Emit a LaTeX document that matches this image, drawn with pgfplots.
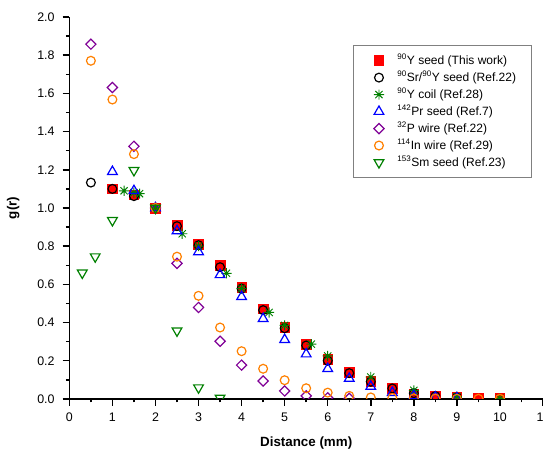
\documentclass[border=0pt]{standalone}
\usepackage{fontspec}
\setmainfont{Liberation Sans}
\usepackage{pgfplots}
\pgfplotsset{compat=1.18}

\definecolor{cred}{RGB}{255,0,0}
\definecolor{cgreen}{RGB}{0,128,0}
\definecolor{cblue}{RGB}{0,0,255}
\definecolor{cpurple}{RGB}{128,0,150}
\definecolor{corange}{RGB}{255,128,0}

% 8-armed star as in the original plot
\pgfdeclareplotmark{star8}{%
  \pgfpathmoveto{\pgfqpoint{0pt}{\pgfplotmarksize}}\pgfpathlineto{\pgfqpoint{0pt}{-\pgfplotmarksize}}%
  \pgfpathmoveto{\pgfqpoint{\pgfplotmarksize}{0pt}}\pgfpathlineto{\pgfqpoint{-\pgfplotmarksize}{0pt}}%
  \pgfpathmoveto{\pgfqpointpolar{45}{\pgfplotmarksize}}\pgfpathlineto{\pgfqpointpolar{225}{\pgfplotmarksize}}%
  \pgfpathmoveto{\pgfqpointpolar{135}{\pgfplotmarksize}}\pgfpathlineto{\pgfqpointpolar{315}{\pgfplotmarksize}}%
  \pgfusepathqstroke}

\begin{document}
\begin{tikzpicture}
\begin{axis}[
    scale only axis,
    width=354.4pt, height=285.75pt,
    xmin=0, xmax=11, ymin=0, ymax=2,
    axis x line*=bottom, axis y line*=left,
    axis line style={line width=1.1pt},
    xtick={0,1,...,11}, minor x tick num=1,
    ytick={0,0.2,...,2.0}, minor y tick num=1,
    tick align=outside,
    major tick length=5pt, minor tick length=2.6pt,
    every tick/.style={line width=1.1pt, black},
    /pgf/number format/assume math mode=true,
    yticklabel style={/pgf/number format/.cd, fixed, fixed zerofill, precision=1, /tikz/.cd, xshift=-2.5pt},
    xticklabel style={yshift=-2pt},
    ticklabel style={font=\fontsize{9.3}{11}\selectfont},
    xlabel={\textbf{Distance (mm)}},
    ylabel={\textbf{g(r)}},
    label style={font=\fontsize{12}{14}\selectfont},
    every axis x label/.style={at={(axis description cs:0.5,0)}, anchor=center, yshift=-33pt},
    every axis y label/.style={at={(axis description cs:-0.1185,0.5)}, anchor=center, rotate=90},
    clip marker paths=true,
    legend style={at={(0.975,0.9265)}, anchor=north east, draw=gray, line width=0.5pt,
        font=\fontsize{9}{10}\selectfont, row sep=0pt, inner xsep=9pt, inner ysep=5pt,
        nodes={inner ysep=1.6pt}},
    legend cell align=left,
    legend image code/.code={\path (-9.5pt,0pt) (11.3pt,0pt);
        \draw[#1] plot coordinates {(0pt,0pt)};},
]
% 90Y seed (This work)
\addplot[only marks, mark=square*, mark size=3.6pt, color=cred] coordinates {
 (1.0,1.10) (1.5,1.07) (2.0,1.00) (2.5,0.91) (3.0,0.81) (3.5,0.70) (4.0,0.585)
 (4.5,0.472) (5.0,0.374) (5.5,0.287) (6.0,0.208) (6.5,0.138) (7.0,0.094)
 (7.5,0.056) (8.0,0.028) (8.5,0.016) (9.0,0.010) (9.5,0.006) (10.0,0.004)};
% 90Sr/90Y seed
\addplot[only marks, mark=o, mark size=3.3pt, color=black, line width=0.9pt] coordinates {
 (0.5,1.133) (1.0,1.10) (1.5,1.062) (2.0,1.00) (2.5,0.905) (3.0,0.805) (3.5,0.69)
 (4.0,0.578) (4.5,0.465) (5.0,0.37) (5.5,0.28) (6.0,0.20) (6.5,0.135) (7.0,0.09)
 (7.5,0.055) (8.0,0.03) (8.5,0.015) (9.0,0.008)};
% 90Y coil
\addplot[only marks, mark=star8, mark size=3.8pt, color=cgreen, line width=0.7pt] coordinates {
 (1.27,1.09) (1.5,1.08) (1.63,1.075) (2.0,1.00) (2.62,0.865) (3.0,0.80) (3.65,0.658)
 (4.0,0.578) (4.64,0.453) (5.0,0.385) (5.62,0.287) (6.0,0.225) (7.0,0.115)
 (8.0,0.045) (9.0,0.012) (10.0,0.003)};
% 142Pr seed
\addplot[only marks, mark=triangle, mark size=4.2pt, color=cblue, line width=0.9pt] coordinates {
 (1.0,1.19) (1.5,1.09) (2.0,1.00) (2.5,0.88) (3.0,0.77) (3.5,0.65) (4.0,0.535)
 (4.5,0.42) (5.0,0.31) (5.5,0.235) (6.0,0.158) (6.5,0.107) (7.0,0.065)
 (7.5,0.033) (8.0,0.016) (8.5,0.009) (9.0,0.005)};
% 32P wire
\addplot[only marks, mark=square, mark options={rotate=45}, mark size=2.7pt, color=cpurple, line width=0.9pt] coordinates {
 (0.5,1.858) (1.0,1.631) (1.5,1.323) (2.0,1.00) (2.5,0.71) (3.0,0.479) (3.5,0.302)
 (4.0,0.177) (4.5,0.094) (5.0,0.042) (5.5,0.016) (6.0,0.006) (6.5,0.003)};
% 114In wire
\addplot[only marks, mark=o, mark size=3.3pt, color=corange, line width=0.9pt] coordinates {
 (0.5,1.771) (1.0,1.568) (1.5,1.282) (2.0,1.00) (2.5,0.745) (3.0,0.54) (3.5,0.374)
 (4.0,0.25) (4.5,0.158) (5.0,0.098) (5.5,0.056) (6.0,0.033) (6.5,0.016) (7.0,0.008)
 (7.5,0.005) (8.0,0.003) (8.5,0.002) (9.0,0.001) (9.5,0.001) (10.0,0.001)};
% 153Sm seed
\addplot[only marks, mark=triangle, mark options={rotate=180}, mark size=4.2pt, color=cgreen, line width=0.9pt] coordinates {
 (0.3,0.66) (0.6,0.745) (1.0,0.935) (1.5,1.197) (2.0,1.00) (2.5,0.357) (3.0,0.059) (3.5,0.005)};
\legend{\textsuperscript{90}Y seed (This work), \textsuperscript{90}Sr/\textsuperscript{90}Y seed (Ref.22),
  \textsuperscript{90}Y coil (Ref.28), \textsuperscript{142}Pr seed (Ref.7), \textsuperscript{32}P wire (Ref.22),
  \textsuperscript{114}In wire (Ref.29), \textsuperscript{153}Sm seed (Ref.23)}
\coordinate (ll) at (axis cs:0,0);
\coordinate (ur) at (axis cs:11,2);
\end{axis}
\pgfresetboundingbox
\path ([xshift=-51.9pt,yshift=-42.75pt]ll) rectangle ([yshift=12.75pt]ur);
\end{tikzpicture}
\end{document}
